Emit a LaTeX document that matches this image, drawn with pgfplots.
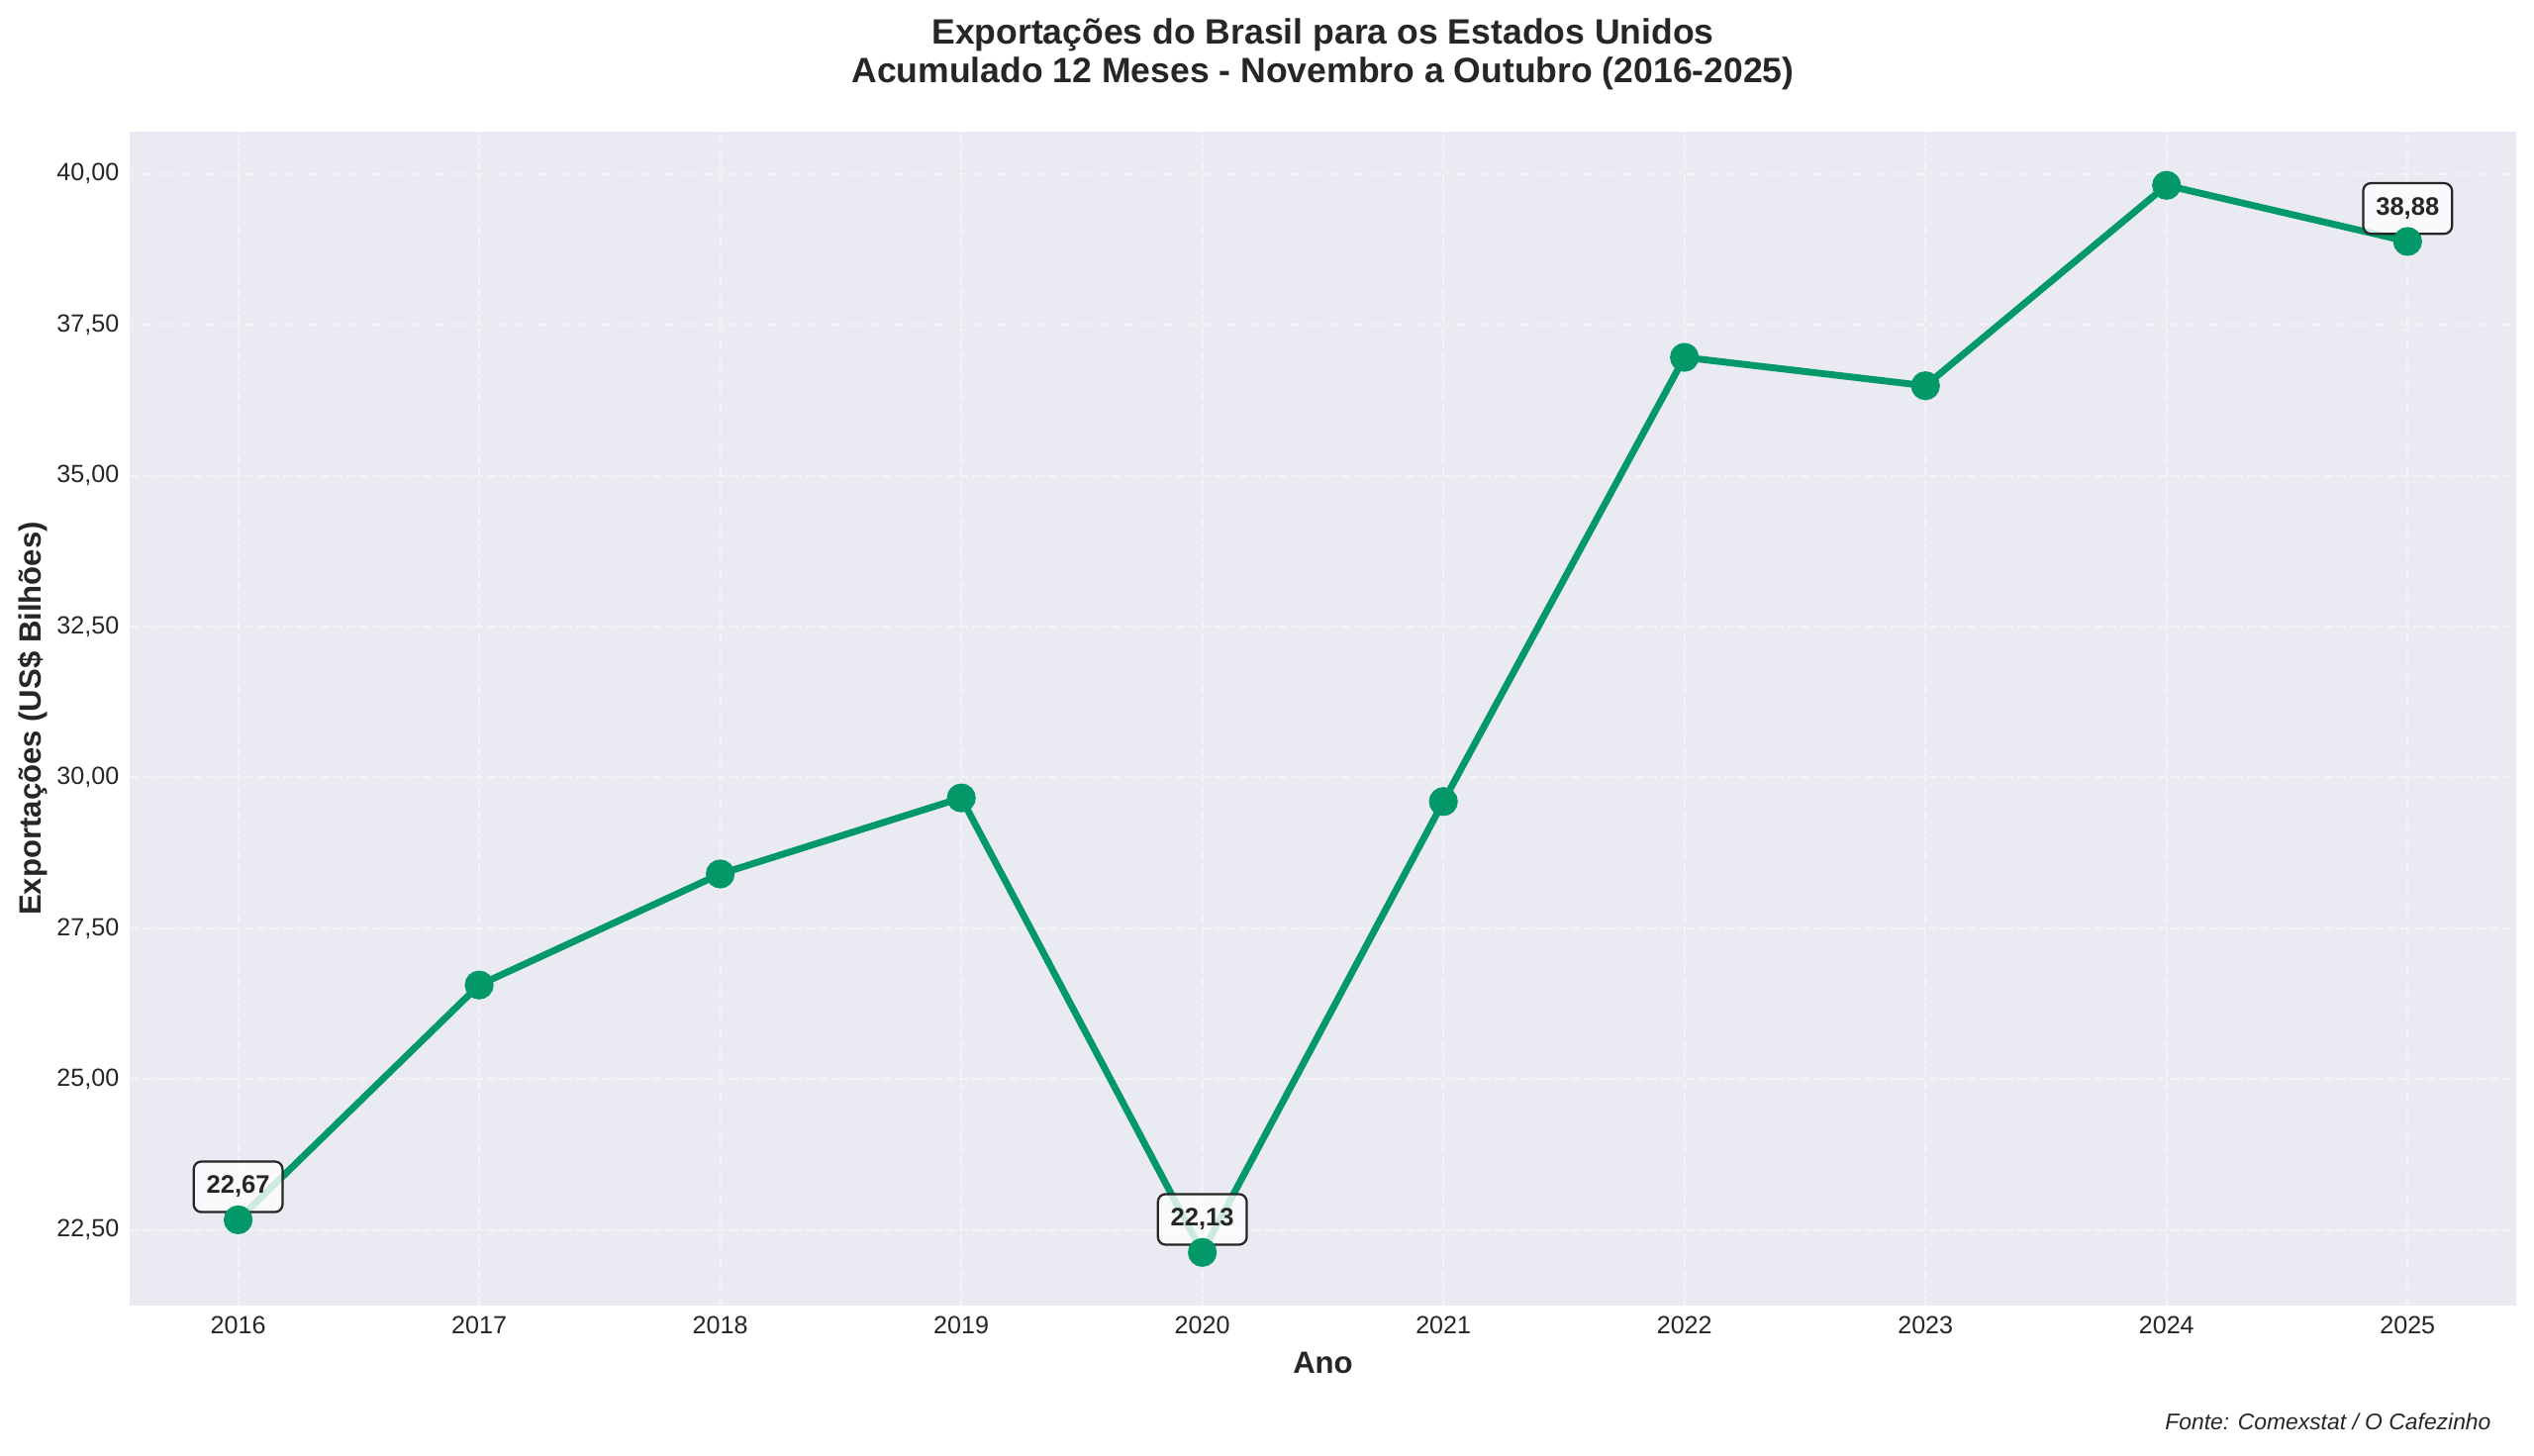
\documentclass[border=0pt]{standalone}
\usepackage{fontspec}
\setmainfont{Liberation Sans}
\usepackage{pgfplots}
\pgfplotsset{compat=1.18}
\definecolor{bg}{HTML}{EAEAF2}
\definecolor{linec}{HTML}{029868}
\definecolor{txt}{HTML}{262626}
\definecolor{gridc}{HTML}{F3F3F7}
\begin{document}
\begin{tikzpicture}
\useasboundingbox (-58.95bp,-68.4bp) rectangle (1093.1bp,593.55bp);
\begin{axis}[
  at={(0,0)}, anchor=south west, scale only axis,
  width=1085bp, height=533.7bp,
  xmin=2015.55, xmax=2025.45, ymin=21.25, ymax=40.70,
  axis background/.style={fill=bg},
  axis line style={draw=none},
  major tick style={draw=none},
  xtick={2016,2017,2018,2019,2020,2021,2022,2023,2024,2025},
  ytick={22.5,25,27.5,30,32.5,35,37.5,40},
  grid=major,
  major grid style={color=gridc, line width=0.9bp, dash pattern=on 4bp off 1.8bp},
  /pgf/number format/assume math mode=true,
  xticklabel style={font=\fontsize{11.3bp}{13bp}\selectfont, text=txt, yshift=-1.5bp,
    /pgf/number format/.cd, fixed, precision=0, 1000 sep={}},
  yticklabel style={font=\fontsize{11.3bp}{13bp}\selectfont, text=txt, xshift=-1.3bp,
    /pgf/number format/.cd, fixed, fixed zerofill, precision=2, use comma, 1000 sep={}},
  clip=false,
]
\addplot[linec, line width=3.1bp, mark=*, mark size=5bp, mark options={draw=none, fill=linec}]
coordinates {
(2016,22.67) (2017,26.56) (2018,28.40) (2019,29.66) (2020,22.13)
(2021,29.60) (2022,36.96) (2023,36.49) (2024,39.81) (2025,38.88)
};
\tikzset{ann/.style={draw=txt, line width=1bp, rounded corners=3.5bp, fill=white, fill opacity=0.8, text opacity=1,
  text=txt, font=\fontsize{11.5bp}{13bp}\selectfont\bfseries, inner xsep=5.8bp, minimum height=23bp, anchor=center, yshift=15bp}}
\node[ann] at (axis cs:2016,22.67) {22,67};
\node[ann] at (axis cs:2020,22.13) {22,13};
\node[ann] at (axis cs:2025,38.88) {38,88};
\end{axis}
\node[anchor=base, text=txt, font=\fontsize{16bp}{18bp}\selectfont\bfseries, inner sep=0] at (542.5bp,573.4bp) {Exportações do Brasil para os Estados Unidos};
\node[anchor=base, text=txt, font=\fontsize{16bp}{18bp}\selectfont\bfseries, inner sep=0] at (542.5bp,556.0bp) {Acumulado 12 Meses - Novembro a Outubro (2016-2025)};
\node[anchor=base, text=txt, font=\fontsize{14bp}{16bp}\selectfont\bfseries, inner sep=0] at (542.5bp,-30.9bp) {Ano};
\node[anchor=center, rotate=90, text=txt, font=\fontsize{14bp}{16bp}\selectfont\bfseries, inner sep=0] at (-44.1bp,266.85bp) {Exportações (US\$ Bilhões)};
\node[anchor=base east, text=txt, font=\fontsize{10.3bp}{12bp}\selectfont\itshape, inner sep=0] at (1073.7bp,-56.7bp) {Fonte: Comexstat / O Cafezinho};
\end{tikzpicture}
\end{document}
